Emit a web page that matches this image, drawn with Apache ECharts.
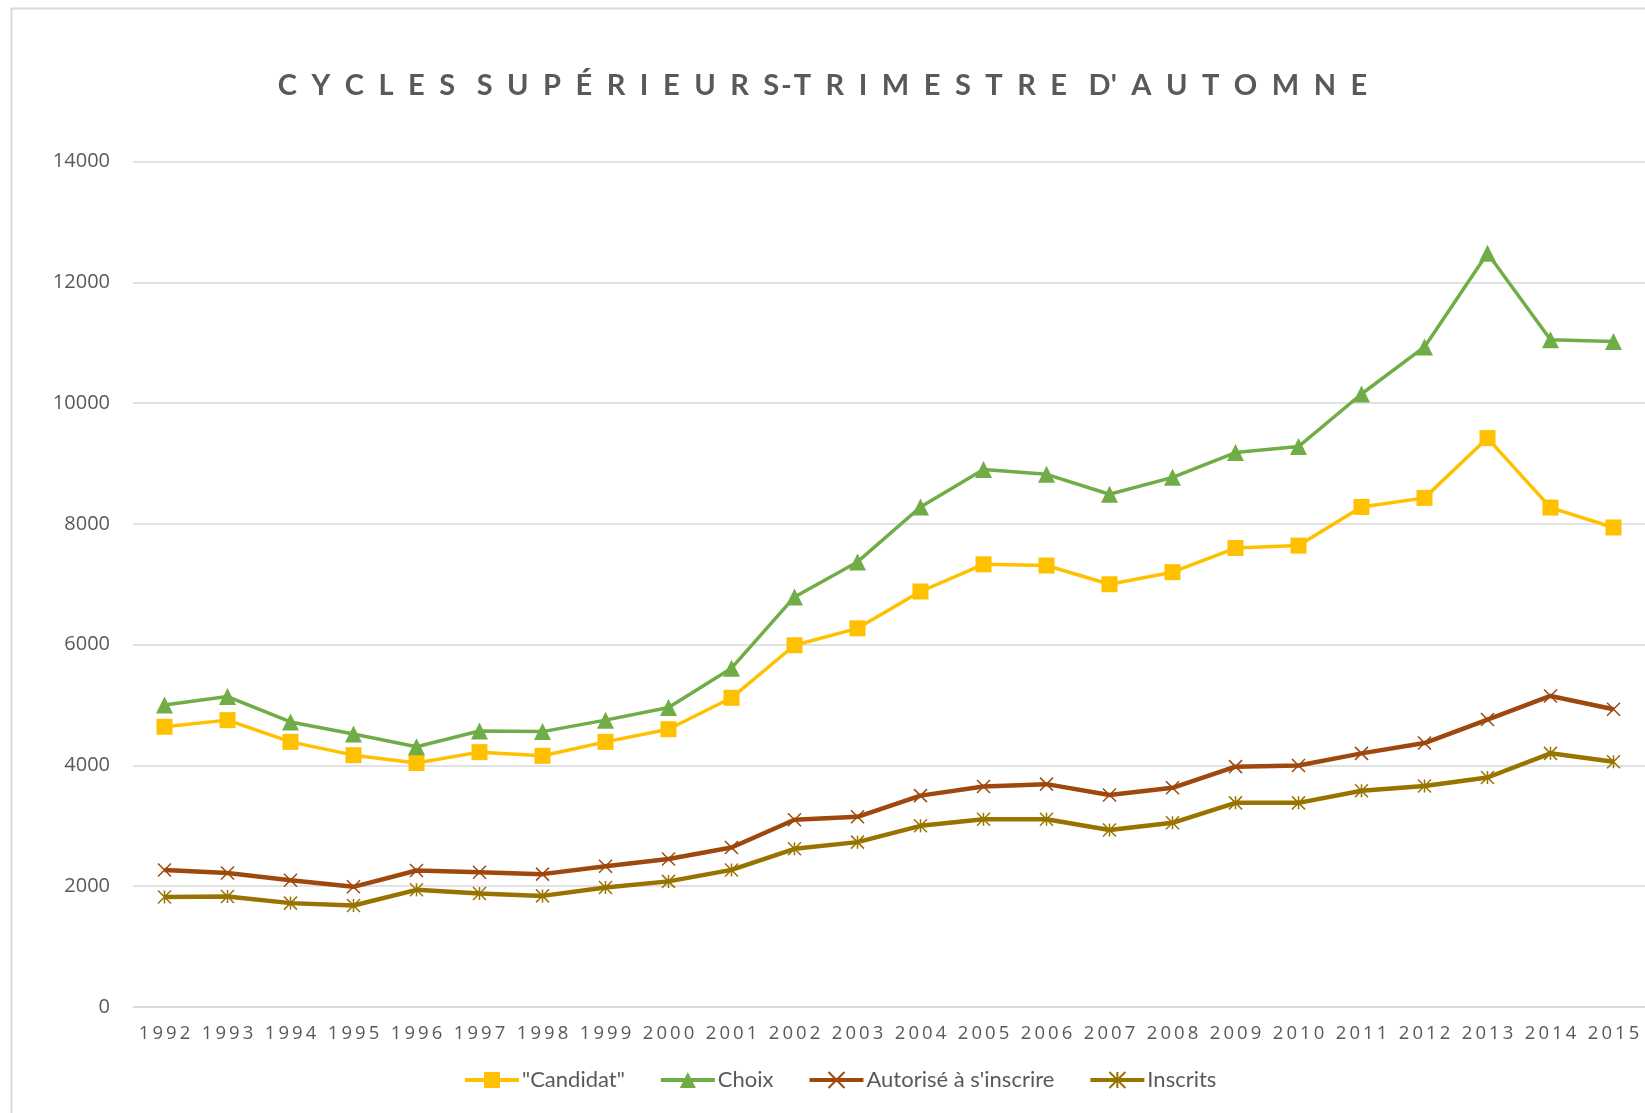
<!DOCTYPE html>
<html>
<head>
<meta charset="utf-8">
<script src="https://cdn.jsdelivr.net/npm/echarts@6/dist/echarts.min.js"></script>
<style>html,body{margin:0;padding:0;background:#fff;}#c{width:1645px;height:1113px;}</style>
</head>
<body>
<div id="c"></div>
<script>
const years = ['1992','1993','1994','1995','1996','1997','1998','1999','2000','2001','2002','2003','2004','2005','2006','2007','2008','2009','2010','2011','2012','2013','2014','2015'];
const candidat = [4640, 4750, 4390, 4170, 4040, 4220, 4160, 4390, 4600, 5120, 5990, 6270, 6880, 7330, 7310, 7000, 7200, 7600, 7640, 8280, 8430, 9420, 8270, 7940];
const choix = [5000, 5140, 4720, 4520, 4310, 4570, 4560, 4750, 4960, 5610, 6790, 7370, 8280, 8900, 8820, 8490, 8770, 9180, 9280, 10150, 10930, 12480, 11050, 11020];
const autorise = [2270, 2220, 2100, 1990, 2260, 2230, 2200, 2330, 2450, 2640, 3100, 3150, 3500, 3650, 3690, 3510, 3630, 3980, 4000, 4200, 4370, 4760, 5150, 4930];
const inscrits = [1820, 1830, 1720, 1680, 1940, 1880, 1840, 1980, 2080, 2270, 2620, 2730, 3000, 3110, 3110, 2930, 3050, 3380, 3380, 3580, 3660, 3800, 4200, 4060];
const seriesNames = ['"Candidat"', 'Choix', 'Autorisé à s\'inscrire', 'Inscrits'];
const titleText = 'CYCLES SUPÉRIEURS-TRIMESTRE D\'AUTOMNE';

function spaced(t) {
  // letter-spaced title like the original
  const words = t.split(' ');
  return words.map(w => {
    let out = '';
    for (let i = 0; i < w.length; i++) {
      const ch = w[i], nx = w[i + 1];
      out += ch;
      if (nx === undefined) continue;
      if (ch === '-' || nx === '-') { out += '\u200A'; continue; }
      if (nx === '\'') continue;
      out += '\u2002';
    }
    return out;
  }).join('\u2002 ');
}

const chart = echarts.init(document.getElementById('c'));
const X = 'path://M0,0L1,1M1,0L0,1';
const AST = 'path://M0,0L1,1M1,0L0,1M0.5,0L0.5,1';
chart.setOption({
  backgroundColor: '#fff',
  animation: false,
  graphic: [{
    type: 'rect', left: 9, top: 6, shape: { width: 1700, height: 1200 },
    style: { fill: 'none', stroke: '#d9d9d9', lineWidth: 2 }, silent: true
  }],
  title: {
    text: spaced(titleText),
    left: 'center', top: 66,
    textStyle: { fontFamily: 'Lato', fontWeight: 'bold', fontSize: 29, color: '#595959' }
  },
  legend: {
    left: 458, top: 1064,
    itemWidth: 54, itemHeight: 20, itemGap: 34,
    lineStyle: { width: 4 },
    textStyle: { fontFamily: 'Lato', fontSize: 22, color: '#595959', padding: [0, 0, 0, -2] },
    data: seriesNames
  },
  grid: { left: 133, right: 0, top: 161.5, bottom: 106, containLabel: false },
  xAxis: {
    type: 'category', data: years, boundaryGap: true,
    axisLine: { show: true, lineStyle: { color: '#d9d9d9', width: 1.5 } },
    axisTick: { show: false },
    axisLabel: {
      interval: 0, hideOverlap: false,
      fontFamily: 'Open Sans', fontSize: 18.5, color: '#595959', margin: 17,
      formatter: v => v.split('').join('\u2009')
    }
  },
  yAxis: {
    type: 'value', min: 0, max: 14000, interval: 2000,
    axisLine: { show: false }, axisTick: { show: false },
    splitLine: { lineStyle: { color: '#d9d9d9', width: 1.5 } },
    axisLabel: { fontFamily: 'Open Sans', fontSize: 20, color: '#595959', margin: 23,
      formatter: v => String(v) }
  },
  series: [
    { name: seriesNames[0], type: 'line', data: candidat, symbol: 'rect', symbolSize: 16,
      lineStyle: { color: '#FFC000', width: 3.5 }, itemStyle: { color: '#FFC000' } },
    { name: seriesNames[1], type: 'line', data: choix, symbol: 'triangle', symbolSize: 17,
      lineStyle: { color: '#70AD47', width: 3.5 }, itemStyle: { color: '#70AD47' } },
    { name: seriesNames[2], type: 'line', data: autorise, symbol: X, symbolSize: 13,
      lineStyle: { color: '#9E480E', width: 4.5 },
      itemStyle: { color: '#9E480E', borderColor: '#9E480E', borderWidth: 1.5 } },
    { name: seriesNames[3], type: 'line', data: inscrits, symbol: AST, symbolSize: 13,
      lineStyle: { color: '#997300', width: 4.5 },
      itemStyle: { color: '#997300', borderColor: '#997300', borderWidth: 1.5 } }
  ]
});
</script>
</body>
</html>
